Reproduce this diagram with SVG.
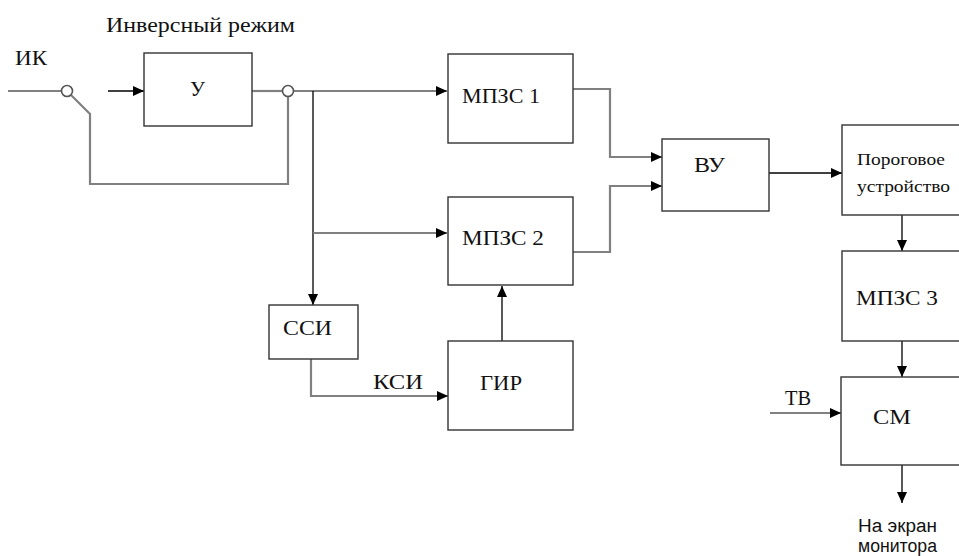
<svg xmlns="http://www.w3.org/2000/svg" width="959" height="556" viewBox="0 0 959 556">
<style>
.box{fill:#fff;stroke:#333;stroke-width:1.4}
.g{fill:none;stroke:#808080;stroke-width:2.2}
.k{fill:none;stroke:#000;stroke-width:1.3}
.t{font-family:"Liberation Serif","Times New Roman",serif;font-size:22px;fill:#111}
.ts{font-family:"Liberation Serif","Times New Roman",serif;font-size:17px;fill:#111}
.sa{font-family:"Liberation Sans",Arial,sans-serif;font-size:18px;fill:#111}
.c{fill:#fff;stroke:#555;stroke-width:1.6}
</style>
<defs>
<marker id="ar" markerUnits="userSpaceOnUse" markerWidth="12" markerHeight="10" refX="11" refY="5" orient="auto">
<path d="M0,0 L11,5 L0,10 Z" fill="#000"/>
</marker>
</defs>
<rect width="959" height="556" fill="#fff"/>
<text class="t" x="106" y="32" textLength="189" lengthAdjust="spacingAndGlyphs">Инверсный режим</text>
<text class="t" x="15" y="65" textLength="32" lengthAdjust="spacingAndGlyphs">ИК</text>
<text class="t" x="785" y="405" textLength="26" lengthAdjust="spacingAndGlyphs">ТВ</text>
<text class="t" x="373" y="389" textLength="50" lengthAdjust="spacingAndGlyphs">КСИ</text>
<g id="connectors">
<path class="g" d="M8,91 H61"/>
<path class="g" d="M71,95 L90,114 V184 H288 V97"/>
<path class="k" d="M108,91 H144" marker-end="url(#ar)"/>
<path class="g" d="M252,91 H282"/>
<path class="g" d="M294,91 H447" marker-end="url(#ar)"/>
<path class="k" d="M313,91 V305" marker-end="url(#ar)"/>
<path class="g" d="M313,233 H447" marker-end="url(#ar)"/>
<path class="g" d="M573,89 H610 V157 H662" marker-end="url(#ar)"/>
<path class="g" d="M573,252 H610 V186 H662" marker-end="url(#ar)"/>
<path class="k" d="M769,173 H842" marker-end="url(#ar)"/>
<path class="k" d="M902,215 V251" marker-end="url(#ar)"/>
<path class="k" d="M902,341 V377" marker-end="url(#ar)"/>
<path class="g" d="M770,413 H841" marker-end="url(#ar)"/>
<path class="k" d="M902,465 V503" marker-end="url(#ar)"/>
<path class="g" d="M311,359 V396 H448" marker-end="url(#ar)"/>
<path class="k" d="M502,341 V286" marker-end="url(#ar)"/>
<circle class="c" cx="67" cy="91" r="5.5"/>
<circle class="c" cx="288" cy="91" r="5.5"/>
</g>
<g id="amp">
<rect class="box" x="144" y="53" width="108" height="73"/>
<text class="t" x="190" y="96" textLength="15" lengthAdjust="spacingAndGlyphs">У</text>
</g>
<g id="mpzs1">
<rect class="box" x="448" y="54" width="125" height="89"/>
<text class="t" x="462" y="103" textLength="78" lengthAdjust="spacingAndGlyphs">МПЗС 1</text>
</g>
<g id="mpzs2">
<rect class="box" x="448" y="197" width="125" height="88"/>
<text class="t" x="462" y="245" textLength="82" lengthAdjust="spacingAndGlyphs">МПЗС 2</text>
</g>
<g id="vu">
<rect class="box" x="662" y="139" width="107" height="72"/>
<text class="t" x="694" y="172" textLength="31" lengthAdjust="spacingAndGlyphs">ВУ</text>
</g>
<g id="ssi">
<rect class="box" x="269" y="305" width="89" height="54"/>
<text class="t" x="283" y="335" textLength="49" lengthAdjust="spacingAndGlyphs">ССИ</text>
</g>
<g id="gir">
<rect class="box" x="448" y="341" width="125" height="89"/>
<text class="t" x="480" y="390" textLength="42" lengthAdjust="spacingAndGlyphs">ГИР</text>
</g>
<g id="threshold">
<rect class="box" x="842" y="125" width="130" height="90"/>
<text class="ts" x="857" y="165" textLength="88" lengthAdjust="spacingAndGlyphs">Пороговое</text>
<text class="ts" x="857" y="192" textLength="93" lengthAdjust="spacingAndGlyphs">устройство</text>
</g>
<g id="mpzs3">
<rect class="box" x="842" y="251" width="130" height="90"/>
<text class="t" x="856" y="305" textLength="82" lengthAdjust="spacingAndGlyphs">МПЗС 3</text>
</g>
<g id="sm">
<rect class="box" x="841" y="377" width="130" height="88"/>
<text class="t" x="873" y="424" textLength="38" lengthAdjust="spacingAndGlyphs">СМ</text>
</g>
<g id="output">
<text class="sa" x="858" y="532" textLength="79" lengthAdjust="spacingAndGlyphs">На экран</text>
<text class="sa" x="858" y="552" textLength="79" lengthAdjust="spacingAndGlyphs">монитора</text>
</g>
</svg>
